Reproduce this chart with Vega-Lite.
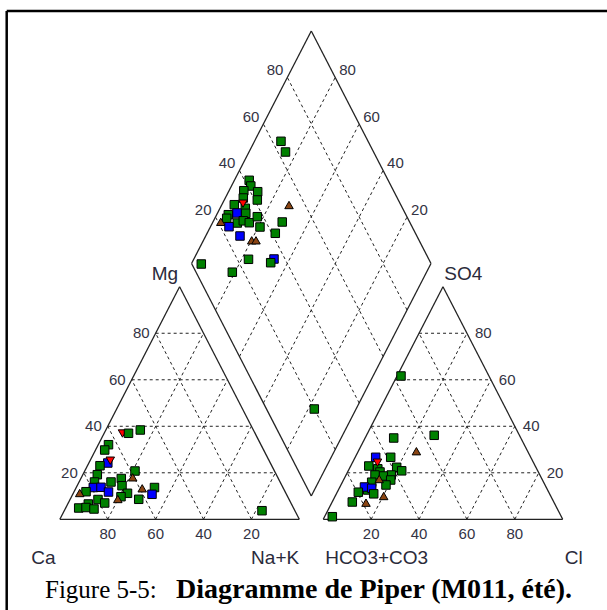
{
  "$schema": "https://vega.github.io/schema/vega-lite/v6.json",
  "width": 607,
  "height": 610,
  "autosize": {"type": "none"},
  "padding": 0,
  "background": "white",
  "config": {"view": {"stroke": null}},
  "datasets": {
    "frame": [
      {"x": -22.2, "y": -39, "x2": -22.2, "y2": 218.57},
      {"x": -22.2, "y": 218.57, "x2": 228.5, "y2": 218.57}
    ],
    "edges": [
      {"x": 0, "y": 0, "x2": 100, "y2": 0},
      {"x": 0, "y": 0, "x2": 50, "y2": 100},
      {"x": 100, "y": 0, "x2": 50, "y2": 100},
      {"x": 110, "y": 0, "x2": 210, "y2": 0},
      {"x": 110, "y": 0, "x2": 160, "y2": 100},
      {"x": 210, "y": 0, "x2": 160, "y2": 100},
      {"x": 105, "y": 10, "x2": 55, "y2": 110},
      {"x": 55, "y": 110, "x2": 105, "y2": 210},
      {"x": 105, "y": 210, "x2": 155, "y2": 110},
      {"x": 155, "y": 110, "x2": 105, "y2": 10}
    ],
    "grid": [
      {"x": 10, "y": 20, "x2": 90, "y2": 20},
      {"x": 20, "y": 40, "x2": 80, "y2": 40},
      {"x": 30, "y": 60, "x2": 70, "y2": 60},
      {"x": 40, "y": 80, "x2": 60, "y2": 80},
      {"x": 20, "y": 0, "x2": 60, "y2": 80},
      {"x": 40, "y": 0, "x2": 70, "y2": 60},
      {"x": 60, "y": 0, "x2": 80, "y2": 40},
      {"x": 80, "y": 0, "x2": 90, "y2": 20},
      {"x": 20, "y": 0, "x2": 10, "y2": 20},
      {"x": 40, "y": 0, "x2": 20, "y2": 40},
      {"x": 60, "y": 0, "x2": 30, "y2": 60},
      {"x": 80, "y": 0, "x2": 40, "y2": 80},
      {"x": 120, "y": 20, "x2": 200, "y2": 20},
      {"x": 130, "y": 40, "x2": 190, "y2": 40},
      {"x": 140, "y": 60, "x2": 180, "y2": 60},
      {"x": 150, "y": 80, "x2": 170, "y2": 80},
      {"x": 130, "y": 0, "x2": 170, "y2": 80},
      {"x": 150, "y": 0, "x2": 180, "y2": 60},
      {"x": 170, "y": 0, "x2": 190, "y2": 40},
      {"x": 190, "y": 0, "x2": 200, "y2": 20},
      {"x": 130, "y": 0, "x2": 120, "y2": 20},
      {"x": 150, "y": 0, "x2": 130, "y2": 40},
      {"x": 170, "y": 0, "x2": 140, "y2": 60},
      {"x": 190, "y": 0, "x2": 150, "y2": 80},
      {"x": 95, "y": 30, "x2": 145, "y2": 130},
      {"x": 85, "y": 50, "x2": 135, "y2": 150},
      {"x": 75, "y": 70, "x2": 125, "y2": 170},
      {"x": 65, "y": 90, "x2": 115, "y2": 190},
      {"x": 115, "y": 30, "x2": 65, "y2": 130},
      {"x": 125, "y": 50, "x2": 75, "y2": 150},
      {"x": 135, "y": 70, "x2": 85, "y2": 170},
      {"x": 145, "y": 90, "x2": 95, "y2": 190}
    ],
    "lbl_left": [
      {"x": 10, "y": 20, "label": "20"},
      {"x": 20, "y": 40, "label": "40"},
      {"x": 30, "y": 60, "label": "60"},
      {"x": 40, "y": 80, "label": "80"}
    ],
    "lbl_base": [
      {"x": 20, "y": 0, "label": "80"},
      {"x": 40, "y": 0, "label": "60"},
      {"x": 60, "y": 0, "label": "40"},
      {"x": 80, "y": 0, "label": "20"},
      {"x": 130, "y": 0, "label": "20"},
      {"x": 150, "y": 0, "label": "40"},
      {"x": 170, "y": 0, "label": "60"},
      {"x": 190, "y": 0, "label": "80"}
    ],
    "lbl_right": [
      {"x": 200, "y": 20, "label": "20"},
      {"x": 190, "y": 40, "label": "40"},
      {"x": 180, "y": 60, "label": "60"},
      {"x": 170, "y": 80, "label": "80"}
    ],
    "lbl_dl": [
      {"x": 65, "y": 130, "label": "20"},
      {"x": 75, "y": 150, "label": "40"},
      {"x": 85, "y": 170, "label": "60"},
      {"x": 95, "y": 190, "label": "80"}
    ],
    "lbl_dr": [
      {"x": 145, "y": 130, "label": "20"},
      {"x": 135, "y": 150, "label": "40"},
      {"x": 125, "y": 170, "label": "60"},
      {"x": 115, "y": 190, "label": "80"}
    ],
    "titles": [
      {"x": -6.9, "y": -16.8, "label": "Ca"},
      {"x": 89.9, "y": -16.8, "label": "Na+K"},
      {"x": 43.9, "y": 105.5, "label": "Mg"},
      {"x": 168.5, "y": 105.5, "label": "SO4"},
      {"x": 132.3, "y": -16.5, "label": "HCO3+CO3"},
      {"x": 214.6, "y": -16.8, "label": "Cl"}
    ],
    "points": [
      {"x": 26.16, "y": 36.89, "g": "D"},
      {"x": 28.67, "y": 36.98, "g": "A"},
      {"x": 33.59, "y": 38.40, "g": "A"},
      {"x": 20.31, "y": 32.08, "g": "A"},
      {"x": 18.73, "y": 29.80, "g": "A"},
      {"x": 20.02, "y": 24.21, "g": "B"},
      {"x": 21.06, "y": 25.20, "g": "D"},
      {"x": 16.76, "y": 23.05, "g": "A"},
      {"x": 15.64, "y": 19.18, "g": "A"},
      {"x": 31.38, "y": 20.77, "g": "A"},
      {"x": 30.42, "y": 18.06, "g": "C"},
      {"x": 14.47, "y": 16.04, "g": "A"},
      {"x": 21.36, "y": 16.04, "g": "A"},
      {"x": 25.66, "y": 17.54, "g": "A"},
      {"x": 25.95, "y": 14.45, "g": "A"},
      {"x": 13.97, "y": 13.67, "g": "B"},
      {"x": 17.18, "y": 13.76, "g": "B"},
      {"x": 10.92, "y": 11.87, "g": "A"},
      {"x": 8.29, "y": 11.31, "g": "C"},
      {"x": 20.31, "y": 11.74, "g": "B"},
      {"x": 28.25, "y": 11.18, "g": "A"},
      {"x": 34.39, "y": 13.33, "g": "C"},
      {"x": 39.52, "y": 13.67, "g": "A"},
      {"x": 38.48, "y": 10.75, "g": "B"},
      {"x": 32.93, "y": 8.60, "g": "A"},
      {"x": 25.53, "y": 9.72, "g": "A"},
      {"x": 24.20, "y": 8.73, "g": "C"},
      {"x": 15.93, "y": 8.51, "g": "A"},
      {"x": 18.73, "y": 7.01, "g": "A"},
      {"x": 11.88, "y": 6.58, "g": "A"},
      {"x": 7.87, "y": 4.86, "g": "A"},
      {"x": 10.92, "y": 5.07, "g": "A"},
      {"x": 14.26, "y": 4.43, "g": "A"},
      {"x": 84.42, "y": 3.70, "g": "A"},
      {"x": 142.47, "y": 61.62, "g": "A"},
      {"x": 139.42, "y": 34.96, "g": "A"},
      {"x": 156.33, "y": 36.12, "g": "A"},
      {"x": 148.90, "y": 29.28, "g": "C"},
      {"x": 131.90, "y": 26.66, "g": "B"},
      {"x": 138.17, "y": 26.66, "g": "A"},
      {"x": 129.02, "y": 22.92, "g": "A"},
      {"x": 132.78, "y": 21.71, "g": "A"},
      {"x": 132.65, "y": 24.34, "g": "D"},
      {"x": 140.67, "y": 22.36, "g": "A"},
      {"x": 142.76, "y": 20.85, "g": "A"},
      {"x": 133.70, "y": 20.34, "g": "A"},
      {"x": 138.38, "y": 19.05, "g": "A"},
      {"x": 135.08, "y": 18.62, "g": "A"},
      {"x": 131.61, "y": 19.05, "g": "A"},
      {"x": 130.23, "y": 15.95, "g": "A"},
      {"x": 138.17, "y": 16.90, "g": "A"},
      {"x": 136.20, "y": 14.75, "g": "A"},
      {"x": 133.37, "y": 17.33, "g": "C"},
      {"x": 128.56, "y": 12.60, "g": "A"},
      {"x": 127.22, "y": 13.89, "g": "B"},
      {"x": 130.23, "y": 13.33, "g": "B"},
      {"x": 124.64, "y": 11.65, "g": "A"},
      {"x": 131.07, "y": 10.96, "g": "A"},
      {"x": 135.24, "y": 10.02, "g": "C"},
      {"x": 127.85, "y": 7.14, "g": "C"},
      {"x": 122.13, "y": 7.44, "g": "A"},
      {"x": 113.78, "y": 1.12, "g": "A"},
      {"x": 92.35, "y": 162.54, "g": "A"},
      {"x": 94.23, "y": 157.94, "g": "A"},
      {"x": 79.07, "y": 145.77, "g": "A"},
      {"x": 79.74, "y": 143.32, "g": "A"},
      {"x": 76.82, "y": 141.30, "g": "A"},
      {"x": 82.62, "y": 140.87, "g": "A"},
      {"x": 82.46, "y": 137.30, "g": "A"},
      {"x": 76.61, "y": 138.16, "g": "A"},
      {"x": 72.85, "y": 135.28, "g": "A"},
      {"x": 77.44, "y": 133.73, "g": "A"},
      {"x": 76.48, "y": 135.71, "g": "D"},
      {"x": 95.70, "y": 135.15, "g": "C"},
      {"x": 70.35, "y": 130.98, "g": "A"},
      {"x": 77.65, "y": 131.58, "g": "A"},
      {"x": 73.98, "y": 131.71, "g": "B"},
      {"x": 69.68, "y": 129.43, "g": "A"},
      {"x": 67.21, "y": 127.92, "g": "C"},
      {"x": 74.10, "y": 127.41, "g": "A"},
      {"x": 76.61, "y": 128.35, "g": "A"},
      {"x": 79.11, "y": 127.54, "g": "A"},
      {"x": 82.46, "y": 130.12, "g": "A"},
      {"x": 70.64, "y": 125.82, "g": "B"},
      {"x": 83.58, "y": 125.69, "g": "A"},
      {"x": 92.86, "y": 127.84, "g": "A"},
      {"x": 89.97, "y": 122.98, "g": "A"},
      {"x": 75.23, "y": 121.82, "g": "B"},
      {"x": 80.12, "y": 119.97, "g": "C"},
      {"x": 81.91, "y": 119.97, "g": "C"},
      {"x": 78.78, "y": 111.80, "g": "A"},
      {"x": 89.43, "y": 111.93, "g": "B"},
      {"x": 88.05, "y": 110.34, "g": "A"},
      {"x": 59.07, "y": 109.78, "g": "A"},
      {"x": 72.02, "y": 106.25, "g": "A"},
      {"x": 106.26, "y": 47.43, "g": "A"}
    ]
  },
  "encoding": {
    "x": {"field": "x", "type": "quantitative", "scale": {"domain": [-25, 228.5], "nice": false, "zero": false}, "axis": null},
    "y": {"field": "y", "type": "quantitative", "scale": {"domain": [-39, 223.3], "nice": false, "zero": false}, "axis": null}
  },
  "layer": [
    {
      "data": {"name": "frame"},
      "mark": {"type": "rule", "stroke": "black", "strokeWidth": 2.5},
      "encoding": {"x2": {"field": "x2"}, "y2": {"field": "y2"}}
    },
    {
      "data": {"name": "grid"},
      "mark": {"type": "rule", "stroke": "#222222", "strokeWidth": 1, "strokeDash": [3, 3]},
      "encoding": {"x2": {"field": "x2"}, "y2": {"field": "y2"}}
    },
    {
      "data": {"name": "edges"},
      "mark": {"type": "rule", "stroke": "#222222", "strokeWidth": 1.3},
      "encoding": {"x2": {"field": "x2"}, "y2": {"field": "y2"}}
    },
    {
      "data": {"name": "lbl_left"},
      "mark": {"type": "text", "align": "right", "baseline": "middle", "dx": -6, "font": "Liberation Sans", "fontSize": 15, "fill": "#333344"},
      "encoding": {"text": {"field": "label"}}
    },
    {
      "data": {"name": "lbl_base"},
      "mark": {"type": "text", "align": "center", "baseline": "top", "dy": 8, "font": "Liberation Sans", "fontSize": 15, "fill": "#333344"},
      "encoding": {"text": {"field": "label"}}
    },
    {
      "data": {"name": "lbl_right"},
      "mark": {"type": "text", "align": "left", "baseline": "middle", "dx": 8, "font": "Liberation Sans", "fontSize": 15, "fill": "#333344"},
      "encoding": {"text": {"field": "label"}}
    },
    {
      "data": {"name": "lbl_dl"},
      "mark": {"type": "text", "align": "right", "baseline": "middle", "dx": -4, "dy": -7, "font": "Liberation Sans", "fontSize": 15, "fill": "#333344"},
      "encoding": {"text": {"field": "label"}}
    },
    {
      "data": {"name": "lbl_dr"},
      "mark": {"type": "text", "align": "left", "baseline": "middle", "dx": 4, "dy": -7, "font": "Liberation Sans", "fontSize": 15, "fill": "#333344"},
      "encoding": {"text": {"field": "label"}}
    },
    {
      "data": {"name": "titles"},
      "mark": {"type": "text", "align": "center", "baseline": "middle", "font": "Liberation Sans", "fontSize": 19, "fill": "#2a2a3a"},
      "encoding": {"text": {"field": "label"}}
    },
    {
      "data": {"values": [{"x": -6.2, "y": -30.6, "label": "Figure 5-5:"}]},
      "mark": {"type": "text", "align": "left", "baseline": "middle", "font": "Liberation Serif", "fontSize": 25, "fill": "black"},
      "encoding": {"text": {"field": "label"}}
    },
    {
      "data": {"values": [{"x": 213.9, "y": -30.6, "label": "Diagramme de Piper (M011, été)."}]},
      "mark": {"type": "text", "align": "right", "baseline": "middle", "font": "Liberation Serif", "fontWeight": "bold", "fontSize": 28, "fill": "black"},
      "encoding": {"text": {"field": "label"}}
    },
    {
      "data": {"name": "points"},
      "mark": {"type": "point", "filled": true, "stroke": "black", "strokeWidth": 1, "opacity": 1},
      "encoding": {
        "shape": {"field": "g", "type": "nominal", "scale": {"domain": ["A", "B", "C", "D"], "range": ["square", "square", "triangle-up", "triangle-down"]}, "legend": null},
        "fill": {"field": "g", "type": "nominal", "scale": {"domain": ["A", "B", "C", "D"], "range": ["#008000", "#0000ff", "#8b4513", "#ff0000"]}, "legend": null},
        "size": {"field": "g", "type": "nominal", "scale": {"domain": ["A", "B", "C", "D"], "range": [72, 72, 100, 100]}, "legend": null}
      }
    }
  ]
}
